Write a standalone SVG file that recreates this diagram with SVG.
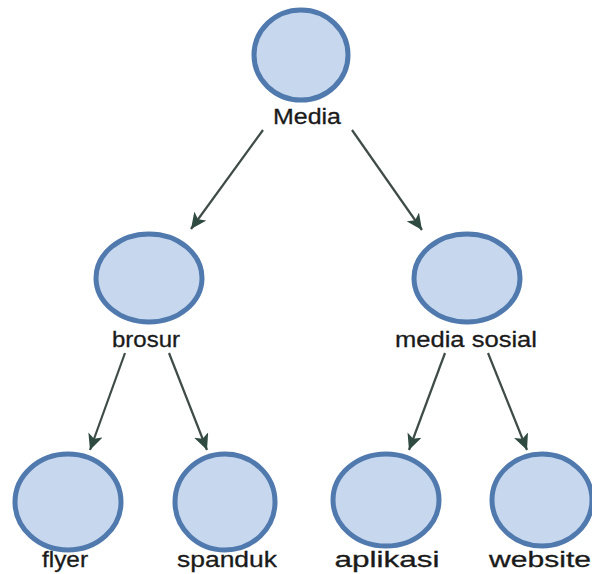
<svg xmlns="http://www.w3.org/2000/svg" width="592" height="574" viewBox="0 0 592 574">
  <style>
    .node ellipse { fill: #c6d7ee; stroke: #5079ae; stroke-width: 5; }
    .node text { font-family: "Liberation Sans", Arial, sans-serif; font-size: 22px; fill: #1a1a1a; stroke: #1a1a1a; stroke-width: 0.3; text-anchor: middle; }
    .edge { stroke: #3e4b47; stroke-width: 2.2; fill: none; marker-end: url(#arrow); }
  </style>
  <defs>
    <marker id="arrow" markerUnits="userSpaceOnUse" markerWidth="17" markerHeight="15" refX="16" refY="7.5" orient="auto">
      <path d="M0,0 L16,7.5 L0,15 L4,7.5 Z" fill="#2f4a40"/>
    </marker>
  </defs>
  <rect width="592" height="574" fill="#ffffff"/>

  <g id="connectors">
    <line class="edge" x1="263" y1="130" x2="191" y2="229"/>
    <line class="edge" x1="352" y1="130" x2="422" y2="230"/>
    <line class="edge" x1="125" y1="353" x2="90" y2="450"/>
    <line class="edge" x1="169" y1="353" x2="207" y2="450"/>
    <line class="edge" x1="445" y1="353" x2="409" y2="450"/>
    <line class="edge" x1="488" y1="353" x2="527" y2="450"/>
  </g>

  <g id="media" class="node">
    <ellipse cx="301" cy="55" rx="47" ry="45"/>
    <text x="307" y="124" textLength="68" lengthAdjust="spacingAndGlyphs">Media</text>
  </g>
  <g id="brosur" class="node">
    <ellipse cx="149" cy="278" rx="53" ry="44"/>
    <text x="146" y="347" textLength="68" lengthAdjust="spacingAndGlyphs">brosur</text>
  </g>
  <g id="media-sosial" class="node">
    <ellipse cx="467" cy="278" rx="53" ry="44"/>
    <text x="466" y="347" textLength="142" lengthAdjust="spacingAndGlyphs">media sosial</text>
  </g>
  <g id="flyer" class="node">
    <ellipse cx="68" cy="502" rx="53" ry="48"/>
    <text x="65" y="567" textLength="46" lengthAdjust="spacingAndGlyphs">flyer</text>
  </g>
  <g id="spanduk" class="node">
    <ellipse cx="225" cy="502" rx="50" ry="48"/>
    <text x="227" y="567" textLength="100" lengthAdjust="spacingAndGlyphs">spanduk</text>
  </g>
  <g id="aplikasi" class="node">
    <ellipse cx="386" cy="500" rx="53" ry="46"/>
    <text x="387" y="567" textLength="105" lengthAdjust="spacingAndGlyphs">aplikasi</text>
  </g>
  <g id="website" class="node">
    <ellipse cx="542" cy="500" rx="50" ry="46"/>
    <text x="540" y="567" textLength="102" lengthAdjust="spacingAndGlyphs">website</text>
  </g>
</svg>
